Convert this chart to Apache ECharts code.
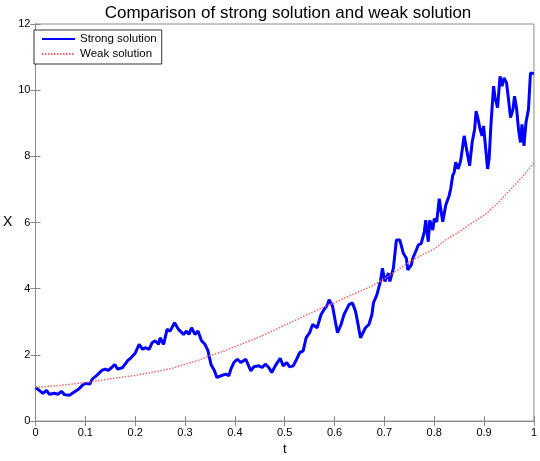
<!DOCTYPE html>
<html>
<head>
<meta charset="utf-8">
<script src="https://cdn.jsdelivr.net/npm/echarts@6/dist/echarts.min.js"></script>
<style>
  html, body { margin: 0; padding: 0; background: #fff; }
  #chart { width: 540px; height: 461px; }
</style>
</head>
<body>
<div id="chart"></div>
<script>
  // strong solution path
  const strongT = [0, .015, .022, .028, .038, .045, .052, .058, .068, .077, .087, .094, .10, .109, .114, .123, .133, .14, .146, .153,
    .159, .165, .175, .185, .192, .2, .208, .215, .22, .228, .234, .24, .247, .25, .257, .264, .27, .279, .287, .297,
    .303, .308, .313, .32, .326, .333, .34, .346, .352, .359, .364, .372, .382, .388, .392, .398, .405, .412, .422, .432,
    .438, .448, .455, .461, .468, .474, .481, .491, .497, .504, .51, .517, .524, .53, .537, .543, .55, .556, .565, .573,
    .579, .586, .589, .596, .602, .606, .613, .619, .629, .636, .642, .646, .652, .656, .662, .669, .675, .678, .685, .692,
    .696, .701, .708, .711, .718, .724, .731, .738, .744, .747, .754, .757, .764, .768, .774, .78, .783, .788, .791, .797,
    .8, .805, .81, .817, .823, .83, .833, .837, .84, .843, .848, .853, .86, .863, .866, .871, .876, .881, .884, .888,
    .892, .896, .899, .902, .907, .91, .914, .919, .922, .927, .932, .936, .94, .945, .949, .953, .958, .961, .965, .969,
    .973, .976, .98, .984, .989, .993, 1.0]
  const strongX = [1.02, .84, .93, .81, .84, .81, .9, .8, .78, .87, .97, 1.08, 1.14, 1.12, 1.27, 1.38, 1.53, 1.57, 1.53, 1.62,
    1.71, 1.57, 1.62, 1.83, 1.92, 2.05, 2.32, 2.17, 2.22, 2.17, 2.37, 2.43, 2.32, 2.52, 2.32, 2.77, 2.72, 2.97, 2.77, 2.62,
    2.72, 2.62, 2.82, 2.62, 2.72, 2.43, 2.32, 2.13, 1.72, 1.52, 1.32, 1.37, 1.42, 1.37, 1.57, 1.77, 1.87, 1.77, 1.87, 1.52,
    1.64, 1.67, 1.62, 1.72, 1.62, 1.47, 1.67, 1.9, 1.67, 1.77, 1.64, 1.67, 1.87, 2.07, 2.12, 2.52, 2.67, 2.92, 2.82, 3.22,
    3.37, 3.52, 3.67, 3.47, 2.97, 2.67, 2.92, 3.22, 3.52, 3.57, 3.32, 3.02, 2.52, 2.52, 2.82, 2.92, 3.22, 3.57, 3.82, 4.22,
    4.62, 4.22, 4.47, 4.22, 4.62, 5.47, 5.47, 5.07, 4.92, 4.57, 4.72, 4.92, 5.17, 5.32, 5.37, 5.72, 6.07, 5.42, 6.07, 5.77,
    6.12, 6.02, 6.72, 6.02, 6.52, 6.82, 7.02, 7.42, 7.52, 7.82, 7.62, 7.87, 8.62, 8.37, 8.12, 7.72, 8.42, 8.82, 9.37, 9.12,
    8.82, 8.62, 8.92, 8.42, 7.62, 7.92, 9.02, 10.12, 9.77, 9.47, 10.42, 10.12, 10.37, 10.22, 9.72, 9.17, 9.42, 9.82, 9.47, 8.82,
    8.42, 8.97, 8.32, 9.02, 9.42, 10.52, 10.5]

  // weak solution
  const weakT = [0, .025, .05, .075, .1, .125, .15, .175, .2, .225, .25, .275, .3, .325, .35, .375, .4, .425, .45, .475,
    .5, .525, .55, .575, .6, .625, .65, .675, .7, .725, .75, .775, .8, .825, .85, .875, .9, .925, .95, .975, 1.0]
  const weakX = [1.02, 1.05, 1.08, 1.12, 1.17, 1.22, 1.28, 1.33, 1.38, 1.45, 1.52, 1.6, 1.72, 1.83, 1.97, 2.1, 2.25, 2.4, 2.55, 2.72,
    2.9, 3.07, 3.25, 3.42, 3.58, 3.75, 3.92, 4.08, 4.3, 4.55, 4.8, 5.02, 5.2, 5.5, 5.72, 5.98, 6.22, 6.55, 6.95, 7.35, 7.8]

  const seriesNames = ['Strong solution', 'Weak solution']
  const titleText = 'Comparison of strong solution and weak solution'

  const font = 'Liberation Sans, Arial, Helvetica, sans-serif'
  const boxColor = '#8a8a8a'

  const chart = echarts.init(document.getElementById('chart'))

  function pairs(xs, ys) {
    return xs.map((x, i) => [x, ys[i]])
  }

  function tickAxis(extra) {
    return Object.assign({
      type: 'value',
      axisLine: { show: true, lineStyle: { color: boxColor, width: 1 } },
      axisTick: { show: true, inside: true, length: 5, lineStyle: { color: boxColor } },
      splitLine: { show: false },
      axisLabel: { color: '#000', fontSize: 11, fontFamily: font }
    }, extra)
  }

  chart.setOption({
    animation: false,
    backgroundColor: '#fff',
    title: {
      text: titleText,
      left: 283,
      top: 0,
      textAlign: 'center',
      textStyle: { fontSize: 17, fontWeight: 'normal', color: '#000', fontFamily: font }
    },
    legend: {
      data: seriesNames,
      orient: 'vertical',
      left: 34,
      top: 30,
      padding: [3, 5, 4, 7],
      itemGap: 3,
      itemWidth: 33,
      itemHeight: 12,
      borderColor: '#000',
      borderWidth: 0.8,
      backgroundColor: '#fff',
      itemStyle: { opacity: 0 },
      textStyle: { fontSize: 11.5, color: '#000', fontFamily: font }
    },
    grid: {
      left: 29,
      right: 5,
      top: 24,
      bottom: 38,
      show: true,
      borderColor: boxColor,
      borderWidth: 1
    },
    xAxis: [
      tickAxis({
        min: 0, max: 1, interval: 0.1,
        name: 't',
        nameLocation: 'middle',
        nameGap: 20,
        nameTextStyle: { fontSize: 13, color: '#000', fontFamily: font },
        axisLabel: { color: '#000', fontSize: 11, fontFamily: font, margin: 6 }
      }),
      tickAxis({ min: 0, max: 1, interval: 0.1, position: 'top', axisLabel: { show: false } })
    ],
    yAxis: [
      tickAxis({
        min: 0, max: 12, interval: 2,
        name: 'X',
        nameLocation: 'middle',
        nameRotate: 0,
        nameGap: 20,
        nameTextStyle: { fontSize: 14, color: '#000', fontFamily: font },
        axisLabel: { color: '#000', fontSize: 11, fontFamily: font, margin: 5 }
      }),
      tickAxis({ min: 0, max: 12, interval: 2, position: 'right', axisLabel: { show: false } })
    ],
    series: [
      {
        name: seriesNames[0],
        type: 'line',
        symbol: 'none',
        data: pairs(strongT, strongX),
        lineStyle: { color: '#0000ff', width: 3 },
        itemStyle: { color: '#0000ff' },
        z: 2
      },
      {
        name: seriesNames[1],
        type: 'line',
        symbol: 'none',
        data: pairs(weakT, weakX),
        lineStyle: { color: '#f06a6a', width: 1.5, type: [1.5, 1.5] },
        itemStyle: { color: '#f06a6a' },
        z: 3
      }
    ]
  })
</script>
</body>
</html>
